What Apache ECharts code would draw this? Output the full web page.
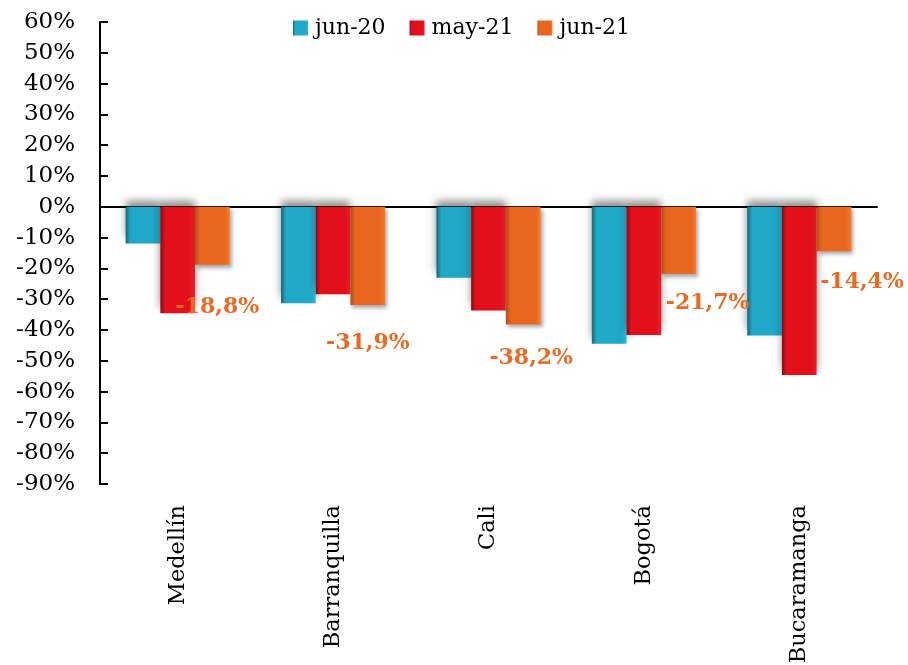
<!DOCTYPE html>
<html>
<head>
<meta charset="utf-8">
<script src="https://cdn.jsdelivr.net/npm/echarts@6/dist/echarts.min.js"></script>
<style>
  html, body { margin: 0; padding: 0; background: #fff; }
  #chart { width: 908px; height: 665px; }
</style>
</head>
<body>
<div id="chart"></div>
<script>
// Year-on-year change by city (%)
const categories = ['Medellín', 'Barranquilla', 'Cali', 'Bogotá', 'Bucaramanga'];
const seriesNames = ['jun-20', 'may-21', 'jun-21'];
const jun20 = [-11.9, -31.3, -23.0, -44.5, -41.8];
const may21 = [-34.6, -28.4, -33.7, -41.6, -54.6];
const jun21 = [-18.8, -31.9, -38.2, -21.7, -14.4];

const FONT = 'DejaVu Serif';

// bevelled look: darker left edge, lighter right edge
function bevel(dark, main, light) {
  return new echarts.graphic.LinearGradient(0, 0, 1, 0, [
    { offset: 0, color: dark },
    { offset: 0.14, color: main },
    { offset: 0.86, color: main },
    { offset: 1, color: light }
  ]);
}

// hand-placed nudges for the jun-21 value labels
const labelNudge = [[5, 32], [0, 27], [8, 23], [29, 19], [28, 20]];

const chart = echarts.init(document.getElementById('chart'), null, { renderer: 'canvas' });

chart.setOption({
  backgroundColor: '#ffffff',
  animation: false,
  textStyle: { fontFamily: FONT },
  legend: {
    top: 17,
    left: 293,
    padding: 0,
    itemWidth: 15,
    itemHeight: 15,
    itemGap: 24,
    icon: 'rect',
    textStyle: { fontFamily: FONT, fontSize: 22, color: '#000', padding: [0, 0, 0, 2] },
    data: seriesNames
  },
  grid: {
    left: 100, right: 31, top: 22, bottom: 181,
    containLabel: false,
    outerBoundsMode: 'none'
  },
  xAxis: [
    {
      // zero line with category boundary ticks
      type: 'category',
      data: categories,
      axisLine: { onZero: true, lineStyle: { color: '#000', width: 2 } },
      axisTick: { inside: true, length: 8, lineStyle: { color: '#000', width: 2 } },
      axisLabel: { show: false },
      splitLine: { show: false }
    },
    {
      // city names along the bottom edge
      type: 'category',
      data: categories,
      position: 'bottom',
      axisLine: { show: false, onZero: false },
      axisTick: { show: false },
      axisLabel: {
        rotate: 90,
        margin: 21,
        fontFamily: FONT,
        fontSize: 22.5,
        color: '#000',
        interval: 0
      },
      splitLine: { show: false }
    }
  ],
  yAxis: {
    type: 'value',
    min: -90,
    max: 60,
    interval: 10,
    axisLine: { show: true, lineStyle: { color: '#000', width: 2 } },
    axisTick: { show: true, inside: true, length: 8, lineStyle: { color: '#000', width: 2 } },
    axisLabel: {
      formatter: '{value}%',
      margin: 25,
      fontFamily: FONT,
      fontSize: 23,
      color: '#000'
    },
    splitLine: { show: false }
  },
  series: [
    {
      name: seriesNames[0],
      type: 'bar',
      data: jun20,
      barGap: '0%',
      barCategoryGap: '33%',
      itemStyle: {
        color: bevel('#15667a', '#20a8c8', '#2bb8d6'),
        shadowColor: 'rgba(0,0,0,0.45)',
        shadowBlur: 8,
        shadowOffsetY: -6
      }
    },
    {
      name: seriesNames[1],
      type: 'bar',
      data: may21,
      barGap: '0%',
      barCategoryGap: '33%',
      itemStyle: {
        color: bevel('#8a0a10', '#e3101c', '#e8202a'),
        shadowColor: 'rgba(0,0,0,0.45)',
        shadowBlur: 8,
        shadowOffsetY: -6
      }
    },
    {
      name: seriesNames[2],
      type: 'bar',
      data: jun21.map((v, i) => ({
        value: v,
        label: { offset: labelNudge[i] }
      })),
      barGap: '0%',
      barCategoryGap: '33%',
      z: 3,
      itemStyle: {
        color: bevel('#b04e18', '#e8661e', '#ff7a22'),
        shadowColor: 'rgba(0,0,0,0.35)',
        shadowBlur: 4,
        shadowOffsetX: 2,
        shadowOffsetY: 3
      },
      label: {
        show: true,
        position: 'bottom',
        distance: 0,
        fontFamily: FONT,
        fontSize: 22,
        fontWeight: 'bold',
        color: '#ea6a24',
        formatter: p => p.value.toFixed(1).replace('.', ',') + '%'
      }
    }
  ]
});
</script>
</body>
</html>
